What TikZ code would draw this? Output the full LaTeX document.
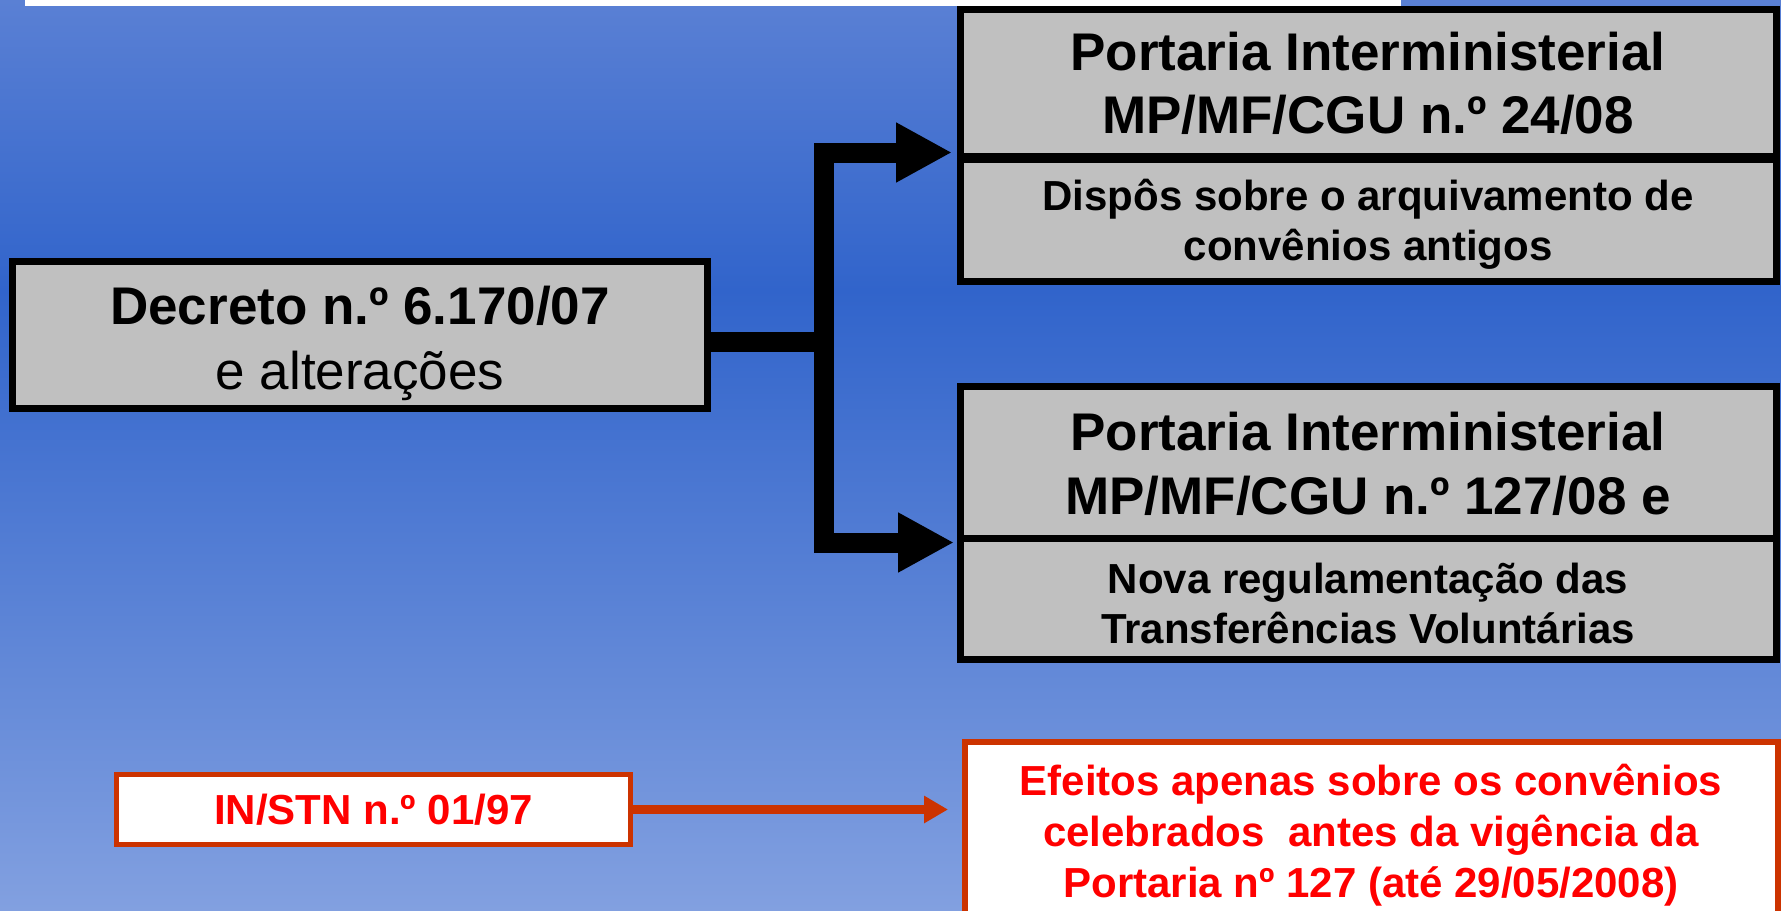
\documentclass[tikz,border=0pt]{standalone}
\usepackage{fontspec}
\setmainfont{Liberation Sans}
\usetikzlibrary{arrows.meta}
\definecolor{bgtop}{RGB}{90,128,212}
\definecolor{bgmid}{RGB}{49,100,203}
\definecolor{bgbot}{RGB}{130,160,224}
\definecolor{boxgray}{RGB}{192,192,192}
\definecolor{rustred}{RGB}{204,51,0}
\definecolor{brightred}{RGB}{255,0,0}
\def\pxu{0.5pt}
\tikzset{
  graybox/.style={draw=black, line width=3.5pt, fill=boxgray, inner sep=0pt, outer sep=0pt},
  txt/.style={inner sep=0pt, outer sep=0pt, align=center},
  headfont/.style={font={\fontsize{26.5pt}{31.5pt}\selectfont\bfseries}},
  subfont/.style={font={\fontsize{21pt}{25pt}\selectfont\bfseries}},
  redbox/.style={draw=rustred, fill=white, inner sep=0pt, outer sep=0pt, align=center},
  conn/.style={draw=black, line width=10pt, line join=miter},
  redconn/.style={draw=rustred, line width=4.5pt}
}
\begin{document}
\begin{tikzpicture}[x=0.5pt,y=-0.5pt]
\useasboundingbox (0,0) rectangle (1781,910);
\clip (0,0) rectangle (1781,910);
% background
\shade[top color=bgtop, bottom color=bgmid] (0,0) rectangle (1781,291);
\shade[top color=bgmid, bottom color=bgbot] (0,290) rectangle (1781,910);
\fill[white] (25,-5) rectangle (1401,6);

% boxes
\node[graybox, minimum width=695*\pxu, minimum height=147*\pxu] (dec) at (360,335) {};
\node[txt, font={\fontsize{26.5pt}{32.5pt}\selectfont}] (dect) at ([yshift=-4pt]dec.center)
  {\textbf{Decreto n.º 6.170/07}\\e alterações};

\node[graybox, minimum width=816*\pxu, minimum height=147*\pxu] (h1) at (1368,82.5) {};
\node[txt, headfont] (h1t) at ([yshift=-0.5pt]h1.center) {Portaria Interministerial\\MP/MF/CGU n.º 24/08};
\node[graybox, minimum width=816*\pxu, minimum height=122*\pxu] (s1) at (1368,220) {};
\node[txt, subfont] (s1t) at ([yshift=-2pt]s1.center) {Dispôs sobre o arquivamento de\\convênios antigos};

\node[graybox, minimum width=816*\pxu, minimum height=152*\pxu] (h2) at (1368,462.5) {};
\node[txt, headfont, font={\fontsize{26.5pt}{32pt}\selectfont\bfseries}] (h2t) at ([yshift=-0.5pt]h2.center)
  {Portaria Interministerial\\MP/MF/CGU n.º 127/08 e};
\node[graybox, minimum width=816*\pxu, minimum height=121*\pxu] (s2) at (1368,599) {};
\node[txt, subfont] (s2t) at ([yshift=-2pt]s2.center) {Nova regulamentação das\\Transferências Voluntárias};

\node[redbox, line width=2.5pt, text=brightred, font={\fontsize{21pt}{25pt}\selectfont\bfseries},
  minimum width=514*\pxu, minimum height=70*\pxu]
  (instn) at (373.5,809.5) {IN/STN n.º 01/97};

\node[redbox, line width=3pt, minimum width=813*\pxu, minimum height=208*\pxu]
  (ef) at (1371.5,846) {};
\node[txt, text=brightred, font={\fontsize{21pt}{25.5pt}\selectfont\bfseries}]
  (eftxt) at (1371,835) {Efeitos apenas sobre os convênios\\celebrados\ \ antes da vigência da\\Portaria nº 127 (até 29/05/2008)};

% connectors
\coordinate (jA) at (823.5,152.5);
\coordinate (jM) at (823.5,341.5);
\coordinate (jB) at (823.5,542.5);
\coordinate (tA) at (952,152.5);
\coordinate (tB) at (954,542.5);
\draw[conn] (dec.east |- jM) -- (jM);
\draw[conn, {Triangle[length=28pt,width=28pt]}-{Triangle[length=28pt,width=28pt]}]
  (tA) -- (jA) -- (jB) -- (tB);
\draw[redconn, -{Triangle[length=12pt,width=13pt]}, shorten >=8.5pt]
  (instn.east) -- (instn.east -| ef.west);
\end{tikzpicture}
\end{document}
